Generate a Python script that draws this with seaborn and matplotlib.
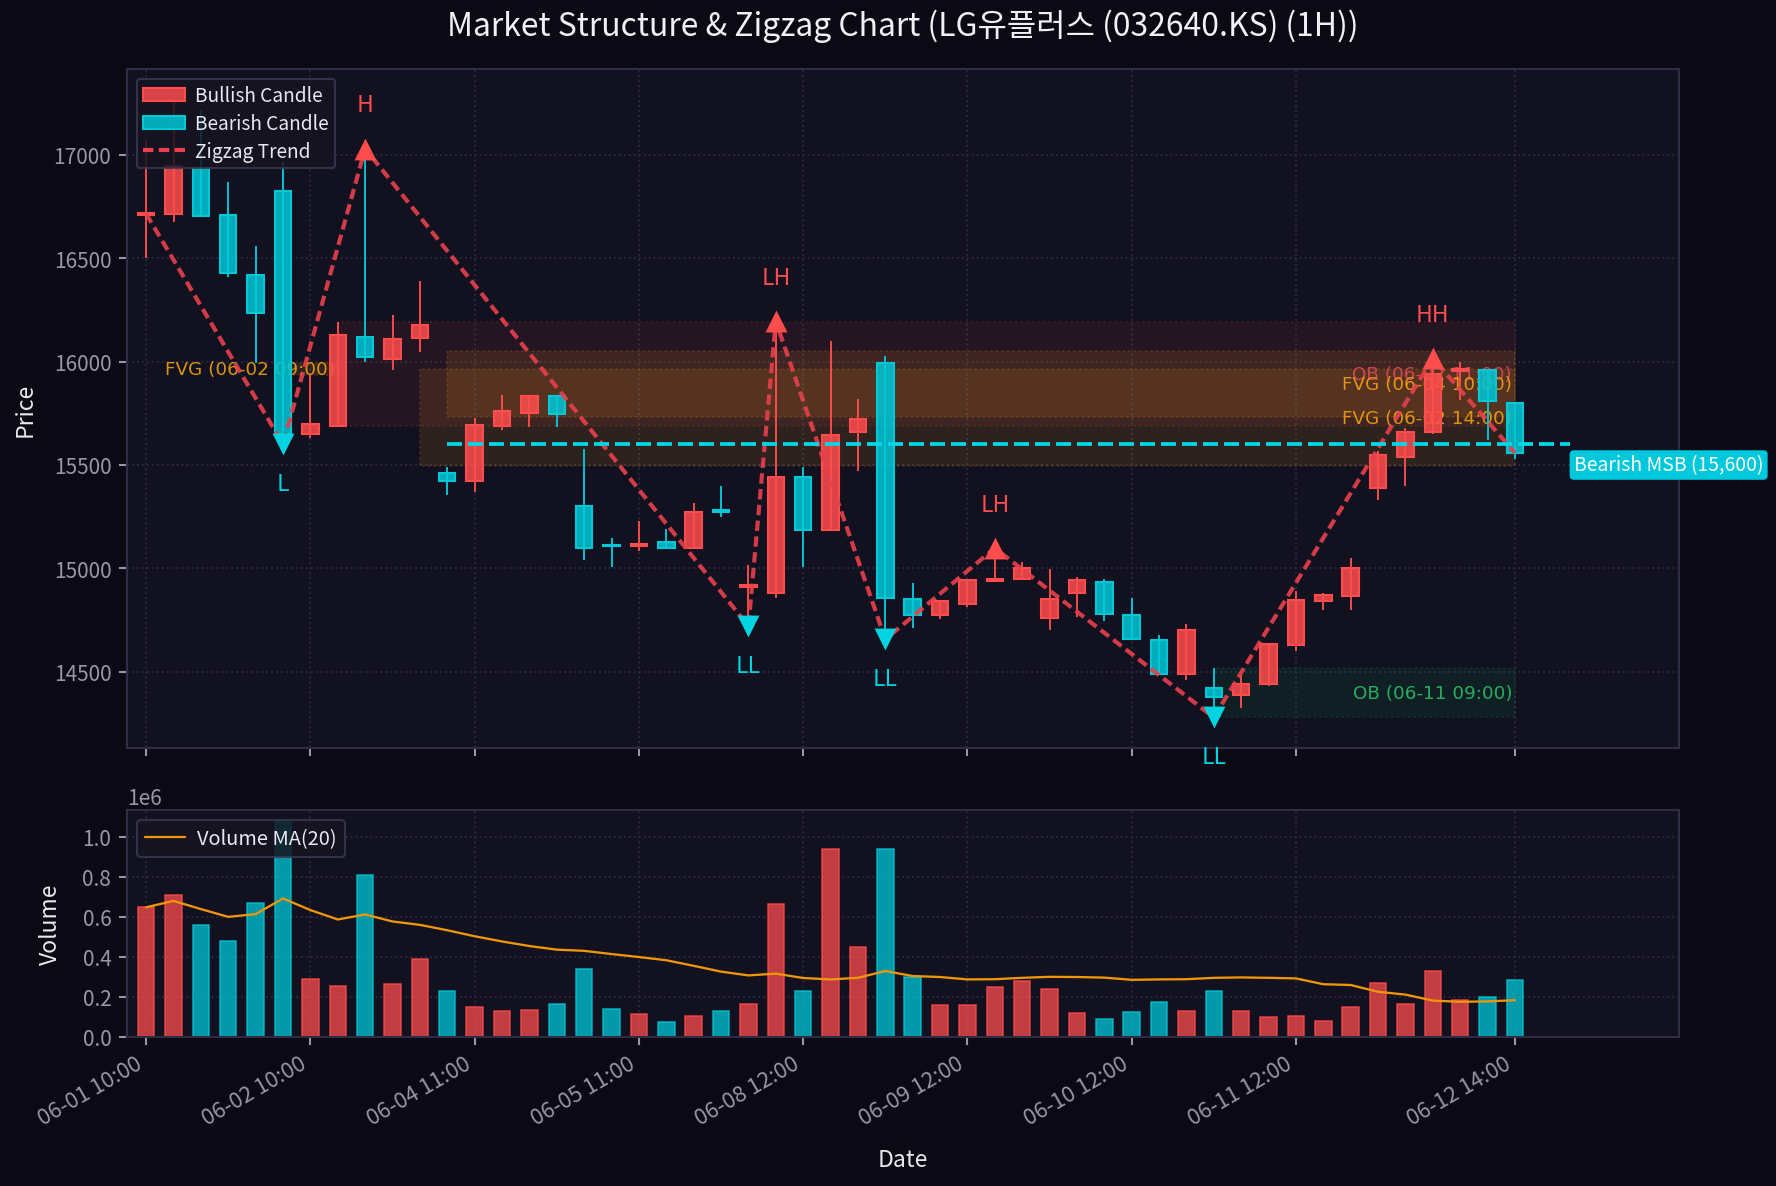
import numpy as np
import pandas as pd
import matplotlib
matplotlib.use("Agg")
import matplotlib.pyplot as plt
import matplotlib.colors as mcolors
from matplotlib.patches import Patch
from matplotlib.lines import Line2D
from matplotlib.ticker import MultipleLocator
import seaborn as sns

# ---------------- data ----------------
title_text = "Market Structure & Zigzag Chart (LG유플러스 (032640.KS) (1H))"

open_ = [16710, 16715, 16935, 16711, 16421, 16827, 15650, 15689, 16121, 16014,
         16116, 15460, 15424, 15687, 15753, 15832, 15300, 15110, 15107, 15129,
         15097, 15280, 14910, 14879, 15440, 15187, 15658, 15994, 14850, 14776,
         14826, 14940, 14950, 14759, 14880, 14932, 14773, 14651, 14487, 14422,
         14387, 14439, 14629, 14839, 14864, 15387, 15537, 15658, 15955, 15961,
         15800]
close = [16720, 16945, 16705, 16426, 16237, 15648, 15700, 16129, 16022, 16111,
         16177, 15424, 15692, 15760, 15832, 15745, 15097, 15106, 15113, 15097,
         15271, 15272, 14918, 15440, 15187, 15645, 15722, 14855, 14776, 14840,
         14943, 14945, 15000, 14851, 14943, 14778, 14657, 14487, 14701, 14375,
         14442, 14633, 14848, 14868, 15000, 15550, 15661, 15940, 15962, 15808,
         15558]
high = [17070, 17255, 17215, 16870, 16560, 16963, 15935, 16193, 17030, 16224,
        16389, 15489, 15727, 15839, 15839, 15839, 15577, 15147, 15229, 15190,
        15316, 15400, 15016, 16195, 15489, 16098, 15819, 16026, 14929, 14845,
        14950, 15097, 15031, 14998, 14958, 14950, 14858, 14678, 14731, 14518,
        14481, 14639, 14889, 14881, 15048, 15569, 15677, 16015, 15997, 15961,
        15806]
low = [16500, 16676, 16700, 16410, 15995, 15600, 15632, 15689, 16000, 15960,
       16048, 15352, 15371, 15671, 15681, 15681, 15042, 15008, 15081, 15097,
       15093, 15250, 14720, 14858, 15008, 15182, 15468, 14656, 14710, 14752,
       14811, 14935, 14945, 14699, 14762, 14743, 14651, 14484, 14461, 14278,
       14322, 14432, 14601, 14800, 14800, 15332, 15400, 15650, 15816, 15618,
       15529]
volume = [647000, 710000, 557000, 480000, 670000, 1080000, 290000, 255000, 810000, 265000,
          390000, 227000, 150000, 130000, 135000, 165000, 340000, 140000, 115000, 75000,
          105000, 130000, 165000, 665000, 230000, 940000, 450000, 940000, 300000, 160000,
          160000, 250000, 280000, 240000, 120000, 90000, 125000, 175000, 130000, 230000,
          130000, 100000, 105000, 80000, 150000, 270000, 165000, 330000, 185000, 200000,
          285000]
volume_ma20 = [647000, 679000, 638000, 599000, 613000, 691000, 633000, 586000, 611000, 576000,
               559000, 532000, 502000, 476000, 453000, 435000, 429000, 413000, 398000, 382000,
               354000, 325000, 306000, 315000, 293000, 286000, 294000, 328000, 303000, 298000,
               286000, 287000, 294000, 299000, 298000, 295000, 284000, 286000, 287000, 294000,
               296000, 294000, 291000, 262000, 258000, 224000, 210000, 180000, 174000, 176000,
               182000]

tick_labels = ["06-01 10:00", "06-02 10:00", "06-04 11:00", "06-05 11:00", "06-08 12:00",
               "06-09 12:00", "06-10 12:00", "06-11 12:00", "06-12 14:00"]

# zigzag pivots
zz_idx = [0, 5, 8, 22, 23, 27, 31, 39, 47, 50]
zz_price = [16715, 15600, 17030, 14720, 16195, 14656, 15097, 14278, 16015, 15558]
zz_label = ["", "L", "H", "LL", "LH", "LL", "LH", "LL", "HH", ""]
zz_kind = ["", "low", "high", "low", "high", "low", "high", "low", "high", ""]

# zones: label, start idx, end idx, bottom, top, kind
zone_labels = ["OB (06-02 11:00)", "FVG (06-04 10:00)", "FVG (06-02 14:00)",
               "FVG (06-02 09:00)", "OB (06-11 09:00)"]
zone_start = [7, 11, 10, 5, 39]
zone_end = [50, 50, 50, 7, 50]
zone_bottom = [15689, 15730, 15495, 15935, 14278]
zone_top = [16193, 16050, 15962, 15995, 14518]
zone_kind = ["ob_bear", "fvg", "fvg", "fvg", "ob_bull"]

msb_level = 15600
msb_start = 11

# ---------------- style ----------------
BG = "#0b0a14"
AX_BG = "#12111f"
BULL = "#ff4d4d"
BEAR = "#00c8d8"
GRID = "#2c2a3e"
SPINE = "#2f2d45"
TXT = "#e8e8f0"
TICK = "#9896a8"

sns.set_theme(style="dark", rc={
    "figure.facecolor": BG, "axes.facecolor": AX_BG, "axes.edgecolor": SPINE,
    "axes.labelcolor": TXT, "xtick.color": TICK, "ytick.color": TICK,
    "text.color": TXT, "grid.color": GRID,
})
plt.rcParams["font.family"] = ["Noto Sans CJK KR", "DejaVu Sans"]
plt.rcParams["axes.unicode_minus"] = False

n = len(close)
x = np.arange(n)
o = np.array(open_, float)
c = np.array(close, float)
h = np.array(high, float)
l = np.array(low, float)
bull = c >= o

fig = plt.figure(figsize=(11.84, 7.913), dpi=150, facecolor=BG)
ax = fig.add_axes([0.0715, 0.369, 0.874, 0.572])
axv = fig.add_axes([0.0715, 0.1259, 0.874, 0.1909], sharex=ax)

for a in (ax, axv):
    a.set_facecolor(AX_BG)
    a.grid(True, linestyle=":", color=GRID, linewidth=0.9)
    for s in a.spines.values():
        s.set_visible(True)
        s.set_color(SPINE)
        s.set_linewidth(1.0)
    a.tick_params(axis="both", colors=TICK, labelsize=10, length=4, width=1,
                  bottom=True, left=True)
    a.set_axisbelow(True)

# ---------------- zones ----------------
zone_fc = {"ob_bear": (BULL, 0.08), "fvg": ("#ff9f1c", 0.12), "ob_bull": ("#00c864", 0.08)}
zone_tc = {"ob_bear": "#e04858", "fvg": "#f0a010", "ob_bull": "#28be64"}
for lab, x0, x1, y0, y1, k in zip(zone_labels, zone_start, zone_end, zone_bottom, zone_top, zone_kind):
    col, al = zone_fc[k]
    ax.fill_between([x0, x1], [y0, y0], [y1, y1], facecolor=mcolors.to_rgba(col, al),
                    edgecolor=mcolors.to_rgba(col, 0.14), linestyle=":", linewidth=1.0, zorder=1)
    ax.text(x1 - 0.1, (y0 + y1) / 2, lab, ha="right", va="center", fontsize=8.8,
            family="DejaVu Sans", color=zone_tc[k], alpha=0.9, zorder=2)

# ---------------- candles ----------------
face = [mcolors.to_rgba(BULL if b else BEAR, 0.85) for b in bull]
edge = [mcolors.to_rgba(BULL if b else BEAR, 1.0) for b in bull]
ax.vlines(x, l, h, colors=edge, linewidth=0.9, zorder=2)
body_lo = np.minimum(o, c)
body_h = np.maximum(np.abs(c - o), 8)
ax.bar(x, body_h, bottom=body_lo, width=0.6, color=face, edgecolor=edge, linewidth=1.0, zorder=3)

# ---------------- zigzag ----------------
ZZ = "#e8404c"
ax.plot(zz_idx, zz_price, color=ZZ, linewidth=2.0, dashes=(2.5, 1.3), alpha=0.9, zorder=4)
for xi, yi, lab, k in zip(zz_idx, zz_price, zz_label, zz_kind):
    if k == "high":
        ax.scatter([xi], [yi], marker="^", s=110, color="#ff4d4d", zorder=5, linewidths=0)
        ax.annotate(lab, (xi, yi), xytext=(0, 21), textcoords="offset points", ha="center",
                    va="center", fontsize=11, color="#ff4d4d", zorder=6)
    elif k == "low":
        ax.scatter([xi], [yi], marker="v", s=110, color="#00d4e0", zorder=5, linewidths=0)
        ax.annotate(lab, (xi, yi), xytext=(0, -19), textcoords="offset points", ha="center",
                    va="center", fontsize=11, color="#00d4e0", zorder=6)

# ---------------- MSB ----------------
msb_end = n + 1
ax.plot([msb_start, msb_end], [msb_level, msb_level], color="#00d8e8", linewidth=1.8,
        dashes=(4.0, 1.6), zorder=4)
ax.annotate(f"Bearish MSB ({msb_level:,})", (msb_end, msb_level), xytext=(2.0, -10),
            textcoords="offset points", ha="left", va="center", fontsize=9.3, color="white",
            bbox=dict(boxstyle="round,pad=0.22", fc="#00c8dc", ec="none"),
            annotation_clip=False, zorder=7)

ax.set_xlim(-0.7, 56)
ax.set_ylim(14130, 17415)
ax.set_ylabel("Price", fontsize=11, color=TXT, labelpad=8)
ax.tick_params(labelbottom=False)

legend_handles = [
    Patch(facecolor=mcolors.to_rgba(BULL, 0.85), edgecolor=BULL, label="Bullish Candle"),
    Patch(facecolor=mcolors.to_rgba(BEAR, 0.85), edgecolor=BEAR, label="Bearish Candle"),
    Line2D([0], [0], color=ZZ, linewidth=2.0, dashes=(2.5, 1.3), label="Zigzag Trend"),
]
leg = ax.legend(handles=legend_handles, loc="upper left", fontsize=9.2, facecolor="#15141f",
                edgecolor="#3a3850", framealpha=0.85, labelcolor=TXT,
                handlelength=2.2, handletextpad=0.5, labelspacing=0.35, borderpad=0.35)
leg.set_zorder(8)

# ---------------- volume ----------------
vdf = pd.DataFrame({"idx": x, "volume": volume,
                    "dir": np.where(bull, "Bullish", "Bearish")})
sns.barplot(data=vdf, x="idx", y="volume", hue="dir",
            palette={"Bullish": BULL, "Bearish": BEAR}, dodge=False, native_scale=True,
            width=0.6, errorbar=None, legend=False, alpha=0.75, saturation=1, ax=axv)
for p in axv.patches:
    fc = p.get_facecolor()
    p.set_edgecolor((fc[0], fc[1], fc[2], 1.0))
    p.set_linewidth(0.8)
sns.lineplot(x=x, y=volume_ma20, color="#f0960a", linewidth=1.1, ax=axv, label="Volume MA(20)")
axv.legend(loc="upper left", fontsize=9.6, facecolor="#15141f", edgecolor="#3a3850",
           framealpha=0.85, labelcolor=TXT, handletextpad=0.6, borderpad=0.4)
axv.set_ylabel("Volume", fontsize=11, color=TXT, labelpad=10)
axv.set_xlabel("Date", fontsize=11, color=TXT, labelpad=9)
axv.yaxis.set_major_locator(MultipleLocator(200000))
axv.yaxis.get_offset_text().set_color(TICK)
axv.yaxis.get_offset_text().set_fontsize(10)

tick_pos = list(range(0, n, 6))
tick_pos = tick_pos[:len(tick_labels) - 1] + [n - 1]
axv.set_xticks(tick_pos)
axv.set_xticklabels(tick_labels, rotation=30, ha="right", fontsize=10.5)
axv.set_xlim(-0.7, 56)

fig.text(0.0715 + 0.874 / 2, 1 - 26 / 1187, title_text, ha="center", va="center",
         fontsize=15.3, color="#f0f0f5")

fig.savefig("out.png", dpi=150, facecolor=BG)
